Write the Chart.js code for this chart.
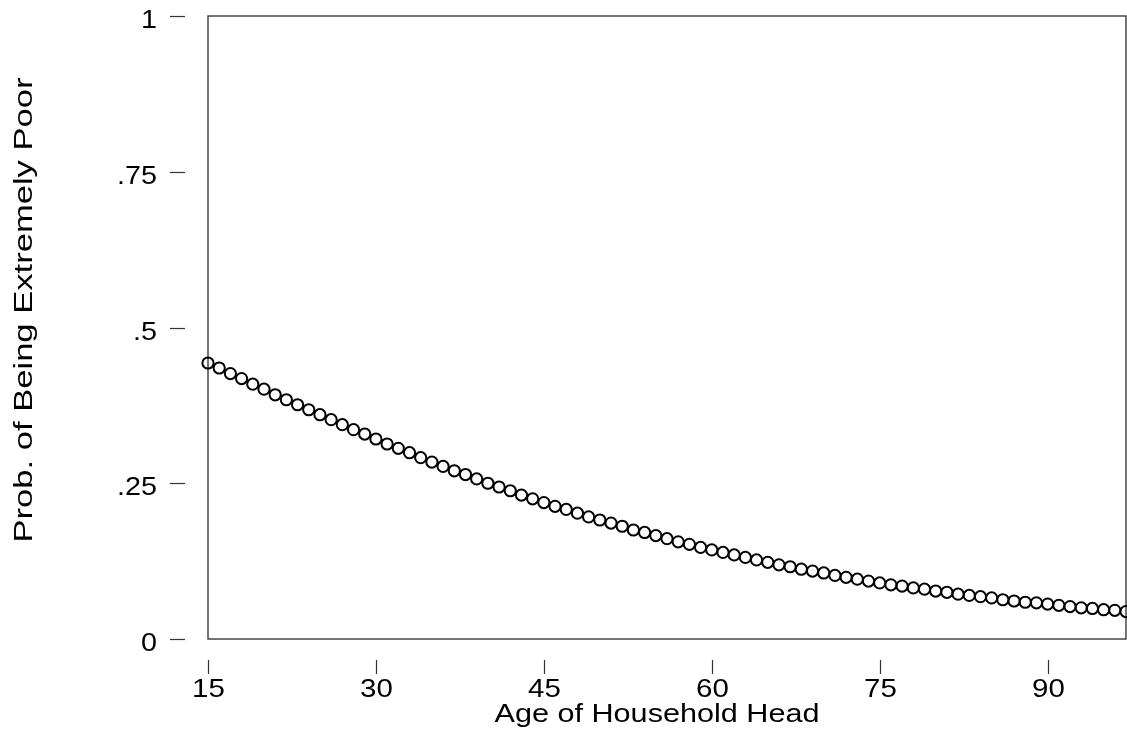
<!DOCTYPE html>
<html>
<head>
<meta charset="utf-8">
<script src="https://cdn.jsdelivr.net/npm/chart.js@4/dist/chart.umd.min.js"></script>
<style>
  html, body { margin: 0; padding: 0; background: #ffffff; }
  #wrap { width: 1127px; height: 730px; }
</style>
</head>
<body>
<div id="wrap"><canvas id="c" width="1127" height="730"></canvas></div>
<script>
// ---- data ----
const ages = [15,16,17,18,19,20,21,22,23,24,25,26,27,28,29,30,31,32,33,34,35,36,37,38,39,40,
  41,42,43,44,45,46,47,48,49,50,51,52,53,54,55,56,57,58,59,60,61,62,63,64,65,66,67,68,69,70,
  71,72,73,74,75,76,77,78,79,80,81,82,83,84,85,86,87,88,89,90,91,92,93,94,95,96,97];
const probs = [0.443,0.435,0.426,0.418,0.409,0.401,0.392,0.384,0.376,0.368,0.360,0.352,0.344,0.336,
  0.329,0.321,0.313,0.306,0.299,0.291,0.284,0.277,0.270,0.264,0.257,0.250,0.244,0.238,0.231,0.225,
  0.219,0.213,0.208,0.202,0.196,0.191,0.186,0.181,0.175,0.171,0.166,0.161,0.156,0.152,0.147,0.143,
  0.139,0.135,0.131,0.127,0.123,0.119,0.116,0.112,0.109,0.106,0.102,0.099,0.096,0.093,0.090,0.087,
  0.085,0.082,0.080,0.077,0.075,0.072,0.070,0.068,0.066,0.063,0.061,0.059,0.058,0.056,0.054,0.052,
  0.050,0.049,0.047,0.046,0.044];
const xTicks = [15, 30, 45, 60, 75, 90];
const xTickLabels = ['15', '30', '45', '60', '75', '90'];
const yTicks = [0, 0.25, 0.5, 0.75, 1];
const yTickLabels = ['0', '.25', '.5', '.75', '1'];
const xTitle = 'Age of Household Head';
const yTitle = 'Prob. of Being Extremely Poor';

const FONT = '"Liberation Sans", Arial, sans-serif';

function drawText(ctx, str, x, y, align, sx, rot, size) {
  ctx.save();
  ctx.translate(x, y);
  if (rot) ctx.rotate(rot);
  ctx.scale(sx, 1);
  ctx.font = size + 'px ' + FONT;
  ctx.textAlign = align;
  ctx.textBaseline = 'alphabetic';
  ctx.fillStyle = '#000';
  ctx.fillText(str, 0, 0);
  ctx.restore();
}
function fitScale(ctx, str, size, target) {
  ctx.save();
  ctx.font = size + 'px ' + FONT;
  const w = ctx.measureText(str).width;
  ctx.restore();
  return target / w;
}

const stataAxes = {
  id: 'stataAxes',
  beforeDatasetsDraw(chart) {
    const ctx = chart.ctx, a = chart.chartArea;
    ctx.save();
    ctx.strokeStyle = '#3a3a3a';
    ctx.lineWidth = 1.4;
    ctx.strokeRect(a.left, a.top, a.right - a.left, a.bottom - a.top);
    ctx.restore();
  },
  afterDraw(chart) {
    const ctx = chart.ctx, xs = chart.scales.x, ys = chart.scales.y;
    ctx.save();
    ctx.strokeStyle = '#333';
    ctx.lineWidth = 1.2;
    yTicks.forEach((v, i) => {
      const y = Math.round(ys.getPixelForValue(v)) + 0.5;
      ctx.beginPath(); ctx.moveTo(170, y); ctx.lineTo(185, y); ctx.stroke();
      drawText(ctx, yTickLabels[i], 157, y + 11.5, 'right', 1.15, 0, 25);
    });
    xTicks.forEach((v, i) => {
      const x = Math.round(xs.getPixelForValue(v)) + 0.5;
      ctx.beginPath(); ctx.moveTo(x, 660); ctx.lineTo(x, 674); ctx.stroke();
      drawText(ctx, xTickLabels[i], x, 697, 'center', 1.18, 0, 25);
    });
    const sxX = fitScale(ctx, xTitle, 26, 325);
    drawText(ctx, xTitle, 657, 722, 'center', sxX, 0, 26);
    const sxY = fitScale(ctx, yTitle, 26, 465);
    drawText(ctx, yTitle, 32, 310, 'center', sxY, -Math.PI / 2, 26);
    ctx.restore();
  }
};

new Chart(document.getElementById('c'), {
  type: 'scatter',
  data: {
    datasets: [{
      data: ages.map((a, i) => ({ x: a, y: probs[i] })),
      pointRadius: 5.6,
      pointHoverRadius: 5.6,
      pointBorderWidth: 2,
      pointBorderColor: '#000',
      pointBackgroundColor: 'rgba(0,0,0,0)',
      showLine: false,
      clip: false
    }]
  },
  options: {
    responsive: false,
    animation: false,
    devicePixelRatio: 1,
    layout: { autoPadding: false, padding: { left: 208, top: 16, right: 1, bottom: 91 } },
    plugins: { legend: { display: false }, tooltip: { enabled: false } },
    events: [],
    scales: {
      x: { type: 'linear', min: 15, max: 97, display: false },
      y: { type: 'linear', min: 0, max: 1, display: false }
    }
  },
  plugins: [stataAxes]
});
</script>
</body>
</html>
